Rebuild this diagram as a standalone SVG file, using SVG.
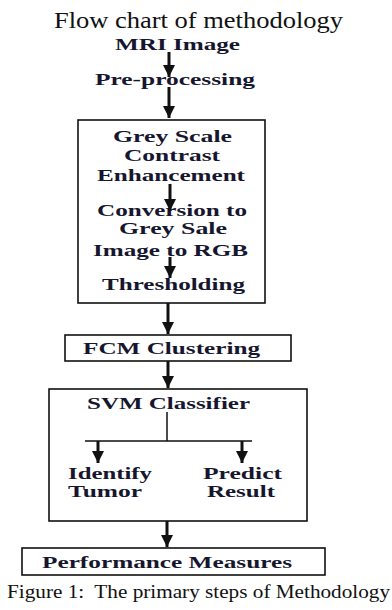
<svg xmlns="http://www.w3.org/2000/svg" width="392" height="610" viewBox="0 0 392 610">
  <style>
    .t { font-family: "Liberation Serif", "Times New Roman", serif; font-weight: bold; font-size: 17px; fill: #16162e; }
    .title { font-family: "Liberation Serif", "Times New Roman", serif; font-size: 24px; fill: #111; }
    .cap { font-family: "Liberation Serif", "Times New Roman", serif; font-size: 19px; fill: #111; white-space: pre; }
    .box { fill: #fff; stroke: #111; stroke-width: 1.6; }
    .ln { stroke: #111; stroke-width: 3; fill: none; }
    .thin { stroke: #111; stroke-width: 1.5; fill: none; }
  </style>
  <defs>
    <marker id="ah" viewBox="0 0 10 10" refX="10" refY="5" markerWidth="4" markerHeight="4.7" orient="auto" markerUnits="strokeWidth">
      <path d="M0,0 L10,5 L0,10 Z" fill="#111"/>
    </marker>
  </defs>
  <rect width="392" height="610" fill="#fff"/>

  <text class="title" x="54" y="28" textLength="289" lengthAdjust="spacingAndGlyphs">Flow chart of methodology</text>

  <g id="mri">
    <text class="t" x="115" y="50" textLength="125" lengthAdjust="spacingAndGlyphs">MRI Image</text>
  </g>
  <g id="preprocessing">
    <text class="t" x="95" y="85" textLength="160" lengthAdjust="spacingAndGlyphs">Pre-processing</text>
  </g>
  <g id="enhancement">
    <rect class="box" x="78" y="120" width="187" height="183"/>
    <text class="t" x="113" y="142" textLength="119" lengthAdjust="spacingAndGlyphs">Grey Scale</text>
    <text class="t" x="124" y="161" textLength="96" lengthAdjust="spacingAndGlyphs">Contrast</text>
    <text class="t" x="97" y="181" textLength="148" lengthAdjust="spacingAndGlyphs">Enhancement</text>
    <text class="t" x="97" y="216" textLength="150" lengthAdjust="spacingAndGlyphs">Conversion to</text>
    <text class="t" x="119" y="234" textLength="108" lengthAdjust="spacingAndGlyphs">Grey Sale</text>
    <text class="t" x="93" y="256" textLength="155" lengthAdjust="spacingAndGlyphs">Image to RGB</text>
    <text class="t" x="102" y="290" textLength="143" lengthAdjust="spacingAndGlyphs">Thresholding</text>
  </g>
  <g id="fcm">
    <rect class="box" x="65" y="335" width="226" height="26"/>
    <text class="t" x="83" y="354" textLength="177" lengthAdjust="spacingAndGlyphs">FCM Clustering</text>
  </g>
  <g id="svm">
    <rect class="box" x="49" y="389" width="258" height="132"/>
    <text class="t" x="87" y="409" textLength="163" lengthAdjust="spacingAndGlyphs">SVM Classifier</text>
  </g>
  <g id="identify">
    <text class="t" x="68" y="479" textLength="84" lengthAdjust="spacingAndGlyphs">Identify</text>
    <text class="t" x="68" y="497" textLength="74" lengthAdjust="spacingAndGlyphs">Tumor</text>
  </g>
  <g id="predict">
    <text class="t" x="203" y="479" textLength="79" lengthAdjust="spacingAndGlyphs">Predict</text>
    <text class="t" x="207" y="497" textLength="68" lengthAdjust="spacingAndGlyphs">Result</text>
  </g>
  <g id="performance">
    <rect class="box" x="22" y="548" width="303" height="27"/>
    <text class="t" x="42" y="568" textLength="250" lengthAdjust="spacingAndGlyphs">Performance Measures</text>
  </g>

  <g id="connectors">
    <line class="ln" x1="169" y1="52" x2="169" y2="77" marker-end="url(#ah)"/>
    <line class="ln" x1="169" y1="87" x2="169" y2="118" marker-end="url(#ah)"/>
    <line class="ln" x1="170" y1="184" x2="170" y2="211" marker-end="url(#ah)"/>
    <line class="ln" x1="170" y1="257" x2="170" y2="278" marker-end="url(#ah)"/>
    <line class="ln" x1="168" y1="303" x2="168" y2="334" marker-end="url(#ah)"/>
    <line class="ln" x1="168" y1="361" x2="168" y2="388" marker-end="url(#ah)"/>
    <path class="thin" d="M167,412 V441 M85,441 H252"/>
    <line class="ln" x1="98" y1="441" x2="98" y2="463" marker-end="url(#ah)"/>
    <line class="ln" x1="242" y1="441" x2="242" y2="463" marker-end="url(#ah)"/>
    <line class="ln" x1="167" y1="521" x2="167" y2="547" marker-end="url(#ah)"/>
  </g>

  <text class="cap" x="7" y="598" textLength="383" lengthAdjust="spacingAndGlyphs" xml:space="preserve">Figure 1:  The primary steps of Methodology</text>
</svg>
